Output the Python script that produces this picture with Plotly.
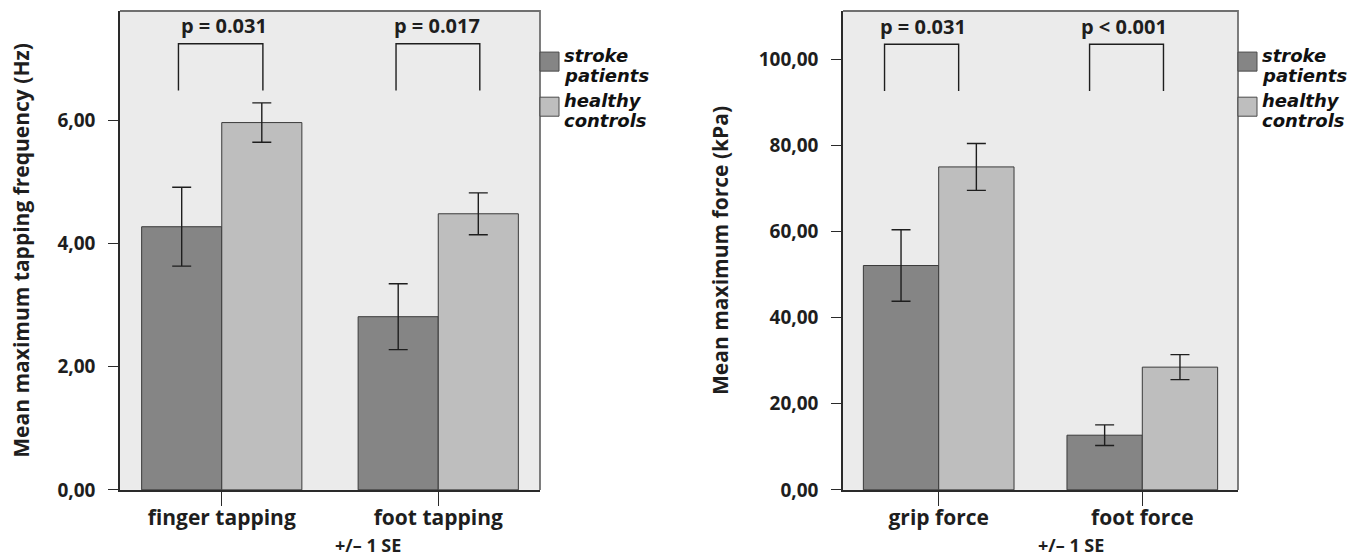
import plotly.graph_objects as go

# ---------------- data ----------------
tap_categories = ["finger tapping", "foot tapping"]
tap_stroke = [4.27, 2.81]
tap_stroke_se = [0.64, 0.535]
tap_healthy = [5.96, 4.48]
tap_healthy_se = [0.32, 0.34]
tap_p_labels = ["p = 0.031", "p = 0.017"]

force_categories = ["grip force", "foot force"]
force_stroke = [52.1, 12.7]
force_stroke_se = [8.3, 2.4]
force_healthy = [75.0, 28.5]
force_healthy_se = [5.45, 2.9]
force_p_labels = ["p = 0.031", "p < 0.001"]

series_names = ["stroke patients", "healthy controls"]
legend_lines = [["stroke", "patients"], ["healthy", "controls"]]
y_titles = ["Mean maximum tapping frequency (Hz)", "Mean maximum force (kPa)"]
x_note = "+/\u2013 1 SE"

# ---------------- styling / geometry ----------------
W = 1365
SY = 0.9754            # observed vertical screen/page ratio of the renderer
H = int(round(555 / SY))
STROKE_COLOR = "#858585"
HEALTHY_COLOR = "#bebebe"
EDGE = "#3a3a3a"
DARK = "#1e1e1e"
BG = "#ebebeb"
FONT = "Open Sans"
LEG_FONT = "DejaVu Sans"


def px_x(p):
    return p / W


def px_y(p):
    return 1 - (p / SY) / H


fig = go.Figure()

panels = [
    dict(xa="x", ya="y", cats=tap_categories, s=tap_stroke, sse=tap_stroke_se,
         h=tap_healthy, hse=tap_healthy_se),
    dict(xa="x2", ya="y2", cats=force_categories, s=force_stroke, sse=force_stroke_se,
         h=force_healthy, hse=force_healthy_se),
]

for pan in panels:
    xs = list(range(len(pan["cats"])))
    for vals, se, col, name in [(pan["s"], pan["sse"], STROKE_COLOR, series_names[0]),
                                (pan["h"], pan["hse"], HEALTHY_COLOR, series_names[1])]:
        fig.add_trace(go.Bar(
            x=xs, y=vals, name=name, xaxis=pan["xa"], yaxis=pan["ya"],
            marker=dict(color=col, line=dict(color=EDGE, width=1)),
            error_y=dict(type="data", array=se, color=DARK, thickness=1.4, width=9.5),
            showlegend=False, offsetgroup=name,
        ))

fig.update_layout(
    width=W, height=H,
    margin=dict(l=0, r=0, t=0, b=0),
    paper_bgcolor="white",
    plot_bgcolor=BG,
    barmode="group", bargap=0.26, bargroupgap=0,
    separators=",.",
    font=dict(family=FONT, color=DARK),
    showlegend=False,
)

ydom = [px_y(489), px_y(11)]
axis_common_x = dict(showgrid=False, zeroline=False, showline=True, linecolor="#2a2a2a",
                     linewidth=1.5, ticks="outside", ticklen=14 / SY, tickwidth=1.4,
                     tickcolor="#2a2a2a", tickvals=[0, 1], ticklabelstandoff=-6,
                     tickfont=dict(family=FONT, size=21, weight="bold", color=DARK),
                     range=[-0.47, 1.47], fixedrange=True)
axis_common_y = dict(showgrid=False, zeroline=False, showline=True, linecolor="#2a2a2a",
                     linewidth=1.5, ticks="outside", ticklen=10, tickwidth=1.4,
                     tickcolor="#2a2a2a", tickformat=".2f", ticklabelstandoff=9,
                     tickfont=dict(family=FONT, size=19, weight="bold", color=DARK),
                     fixedrange=True, domain=ydom)

fig.update_layout(
    xaxis=dict(axis_common_x, domain=[px_x(120), px_x(540)], ticktext=tap_categories, anchor="y"),
    xaxis2=dict(axis_common_x, domain=[px_x(843), px_x(1238)], ticktext=force_categories, anchor="y2"),
    yaxis=dict(axis_common_y, range=[0, 7.77], dtick=2, anchor="x",
               title=dict(text=y_titles[0], standoff=22,
                          font=dict(family=FONT, size=21, weight="bold", color=DARK))),
    yaxis2=dict(axis_common_y, range=[0, 111.2], dtick=20, anchor="x2",
                title=dict(text=y_titles[1], standoff=24,
                           font=dict(family=FONT, size=21, weight="bold", color=DARK))),
)

shapes = []
annotations = []

# frame top/right lines
for xa, ya in [("x", "y"), ("x2", "y2")]:
    shapes.append(dict(type="path", xref=f"{xa} domain", yref=f"{ya} domain",
                       path="M 0,1 L 1,1 L 1,0", line=dict(color="#707070", width=1.8)))

# brackets + p labels
bracket_specs = [
    dict(xa="x", ya="y", offs=[(-0.2, 0.19), (-0.195, 0.192)], yb=6.48, yt=7.24, yl=7.53,
         loff=[0.01, -0.005], labels=tap_p_labels),
    dict(xa="x2", ya="y2", offs=[(-0.266, 0.098), (-0.259, 0.104)], yb=92.6, yt=103.5, yl=107.7,
         loff=[-0.075, -0.089], labels=force_p_labels),
]
for b in bracket_specs:
    for i, (o0, o1) in enumerate(b["offs"]):
        x0, x1 = i + o0, i + o1
        shapes.append(dict(type="path", xref=b["xa"], yref=b["ya"],
                           path=f"M {x0},{b['yb']} L {x0},{b['yt']} L {x1},{b['yt']} L {x1},{b['yb']}",
                           line=dict(color=DARK, width=1.4)))
        annotations.append(dict(xref=b["xa"], yref=b["ya"], x=i + b["loff"][i], y=b["yl"],
                                text=b["labels"][i], showarrow=False, xanchor="center", yanchor="middle",
                                font=dict(family=FONT, size=20, weight="bold", color=DARK)))

# manual legends
for frame_right in [540, 1238]:
    for k, (col, lines) in enumerate(zip([STROKE_COLOR, HEALTHY_COLOR], legend_lines)):
        top = 52 + k * 45
        shapes.append(dict(type="rect", xref="paper", yref="paper",
                           x0=px_x(frame_right), x1=px_x(frame_right + 19),
                           y0=px_y(top + 19), y1=px_y(top),
                           fillcolor=col, line=dict(color="#4a4a4a", width=1)))
        for j, txt in enumerate(lines):
            annotations.append(dict(xref="paper", yref="paper", x=px_x(frame_right + 22),
                                    y=px_y(top + 3 + j * 20), text=txt, showarrow=False,
                                    xanchor="left", yanchor="middle",
                                    font=dict(family=LEG_FONT, size=18, weight="bold",
                                              style="italic", color="#111")))

# "+/- 1 SE" notes
for cx in [368, 1071]:
    annotations.append(dict(xref="paper", yref="paper", x=px_x(cx), y=px_y(544), text=x_note,
                            showarrow=False, xanchor="center", yanchor="middle",
                            font=dict(family=FONT, size=18, weight="bold", color=DARK)))

fig.update_layout(shapes=shapes, annotations=annotations)

fig.write_html(
    "out.html",
    config={"displayModeBar": False},
    post_script="document.body.style.margin='0';document.body.style.overflow='hidden';",
)
